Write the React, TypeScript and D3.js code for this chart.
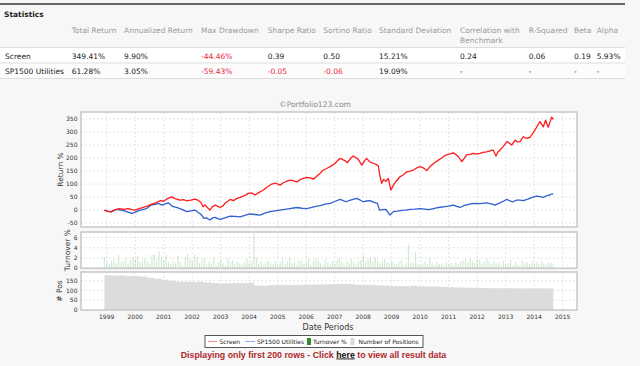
import React from 'react';
import * as d3 from 'd3';

const W = 640;
const H = 366;

// statistics table
const statHeaders = ['Total Return', 'Annualized Return', 'Max Drawdown', 'Sharpe Ratio', 'Sortino Ratio', 'Standard Deviation', 'Correlation with\nBenchmark', 'R-Squared', 'Beta', 'Alpha'];
const statRowNames = ['Screen', 'SP1500 Utilities'];
const screenStats = ['349.41%', '9.90%', '-44.46%', '0.39', '0.50', '15.21%', '0.24', '0.06', '0.19', '5.93%'];
const benchStats = ['61.28%', '3.05%', '-59.43%', '-0.05', '-0.06', '19.09%', '-', '-', '-', '-'];
const colX = [71.7, 124, 201, 267.7, 323.3, 379, 460, 528.7, 574, 596.7];

// return % series, [decimal year, value]
const screenReturn: [number, number][] = [
  [1998.92, 0], [1999.05, -5], [1999.15, -7], [1999.3, 2], [1999.45, 6], [1999.6, 3], [1999.75, 6], [1999.9, 2],
  [2000.0, 0], [2000.12, 5], [2000.28, 10], [2000.45, 16], [2000.58, 23], [2000.72, 28], [2000.87, 36], [2001.0, 34],
  [2001.1, 42], [2001.28, 51], [2001.4, 44], [2001.57, 38], [2001.7, 40], [2001.81, 35], [2001.95, 38], [2002.1, 42],
  [2002.2, 38], [2002.3, 30], [2002.38, 13], [2002.45, 20], [2002.55, 8], [2002.62, 0], [2002.7, 12], [2002.8, 19],
  [2002.9, 14], [2002.98, 10], [2003.08, 16], [2003.15, 26], [2003.25, 34], [2003.33, 41], [2003.45, 36], [2003.55, 44],
  [2003.68, 49], [2003.82, 55], [2003.97, 64], [2004.1, 66], [2004.2, 58], [2004.35, 68], [2004.5, 77], [2004.62, 88],
  [2004.79, 100], [2004.92, 104], [2005.08, 96], [2005.2, 105], [2005.3, 110], [2005.43, 115], [2005.55, 112], [2005.67, 108],
  [2005.8, 118], [2005.9, 122], [2006.02, 126], [2006.15, 124], [2006.25, 119], [2006.35, 128], [2006.42, 135], [2006.48, 140],
  [2006.58, 152], [2006.72, 160], [2006.85, 168], [2007.01, 179], [2007.1, 190], [2007.19, 199], [2007.28, 194], [2007.36, 190],
  [2007.45, 182], [2007.55, 198], [2007.65, 208], [2007.72, 203], [2007.82, 196], [2007.95, 173], [2008.05, 190], [2008.12, 199],
  [2008.22, 186], [2008.35, 180], [2008.45, 176], [2008.53, 170], [2008.59, 130], [2008.65, 103], [2008.72, 118], [2008.8, 110],
  [2008.88, 122], [2008.97, 77], [2009.06, 96], [2009.15, 110], [2009.29, 128], [2009.4, 135], [2009.53, 147], [2009.65, 150],
  [2009.76, 154], [2009.88, 162], [2009.99, 167], [2010.1, 163], [2010.23, 152], [2010.35, 168], [2010.46, 178], [2010.55, 186],
  [2010.64, 192], [2010.75, 200], [2010.87, 210], [2010.93, 212], [2011.05, 216], [2011.16, 220], [2011.25, 214], [2011.34, 205],
  [2011.46, 186], [2011.55, 200], [2011.63, 212], [2011.75, 214], [2011.86, 218], [2011.98, 215], [2012.1, 218], [2012.2, 222],
  [2012.33, 224], [2012.45, 228], [2012.56, 231], [2012.66, 208], [2012.72, 222], [2012.8, 231], [2012.92, 245], [2013.04, 263],
  [2013.12, 258], [2013.21, 250], [2013.33, 269], [2013.42, 262], [2013.5, 263], [2013.62, 282], [2013.72, 276], [2013.85, 279],
  [2013.95, 295], [2014.03, 308], [2014.12, 325], [2014.2, 340], [2014.32, 320], [2014.4, 345], [2014.49, 318], [2014.56, 340],
  [2014.61, 357], [2014.67, 349],
];

const utilitiesReturn: [number, number][] = [
  [1998.92, 0], [1999.05, -5], [1999.15, -7], [1999.35, 3], [1999.5, 0], [1999.62, -3], [1999.75, -8], [1999.88, -13],
  [2000.0, -8], [2000.11, -3], [2000.25, 2], [2000.4, 6], [2000.55, 19], [2000.7, 22], [2000.81, 26], [2000.95, 19],
  [2001.05, 24], [2001.16, 28], [2001.25, 20], [2001.33, 13], [2001.45, 10], [2001.57, 6], [2001.7, 0], [2001.81, -6],
  [2001.95, -3], [2002.1, 0], [2002.2, -8], [2002.27, -13], [2002.35, -22], [2002.41, -32], [2002.5, -30], [2002.62, -38],
  [2002.72, -30], [2002.8, -28], [2002.9, -33], [2002.98, -36], [2003.15, -30], [2003.33, -23], [2003.5, -24], [2003.68, -26],
  [2003.85, -20], [2004.03, -15], [2004.2, -17], [2004.38, -19], [2004.55, -12], [2004.73, -6], [2004.9, -3], [2005.08, 0],
  [2005.25, 3], [2005.43, 6], [2005.55, 8], [2005.67, 10], [2005.85, 7], [2006.02, 6], [2006.2, 10], [2006.37, 15],
  [2006.5, 17], [2006.66, 23], [2006.84, 26], [2007.0, 33], [2007.19, 41], [2007.3, 36], [2007.4, 32], [2007.55, 38],
  [2007.77, 45], [2007.9, 38], [2008.0, 32], [2008.12, 35], [2008.24, 36], [2008.38, 30], [2008.5, 26], [2008.57, 0],
  [2008.68, 2], [2008.8, 3], [2008.94, -19], [2009.06, -6], [2009.2, -4], [2009.35, -1], [2009.5, 0], [2009.65, 3],
  [2009.8, 4], [2009.99, 6], [2010.15, 4], [2010.3, 2], [2010.46, 6], [2010.65, 10], [2010.87, 13], [2011.0, 15],
  [2011.16, 19], [2011.28, 14], [2011.4, 10], [2011.55, 18], [2011.7, 22], [2011.86, 26], [2012.1, 25], [2012.33, 28],
  [2012.5, 24], [2012.62, 19], [2012.8, 28], [2012.95, 36], [2013.04, 41], [2013.15, 35], [2013.25, 32], [2013.38, 38],
  [2013.5, 38], [2013.62, 36], [2013.78, 42], [2013.95, 50], [2014.09, 54], [2014.2, 52], [2014.32, 49], [2014.45, 56],
  [2014.55, 58], [2014.61, 62], [2014.67, 62],
];

// monthly turnover %, Dec 1998 .. Sep 2014
const turnoverStart = 1998.92;
const turnover = [
  2.2,
  1.2, 0.8, 1.5, 1.8, 1.0, 2.6, 1.2, 1.4, 2.0, 0.9, 1.6, 2.2,
  1.8, 2.4, 1.2, 1.6, 2.0, 1.4, 1.0, 2.6, 2.8, 1.8, 3.4, 2.2,
  1.6, 2.6, 1.2, 0.8, 1.4, 1.0, 2.4, 1.2, 0.6, 2.2, 2.8, 1.8,
  1.4, 2.6, 2.2, 1.0, 1.6, 2.0, 0.8, 1.4, 1.0, 2.2, 0.6, 1.2,
  1.8, 1.0, 0.6, 2.0, 1.2, 1.6, 0.8, 1.4, 1.0, 0.6, 1.2, 1.8,
  1.0, 1.4, 6.8, 2.2, 0.8, 1.4, 0.6, 1.2, 1.6, 1.0, 0.8, 1.4,
  0.6, 1.2, 1.8, 0.8, 1.4, 2.0, 1.0, 1.2, 0.6, 1.6, 1.4, 0.8,
  1.2, 1.8, 0.6, 1.4, 2.0, 1.6, 1.0, 0.6, 1.8, 1.2, 0.8, 1.4,
  1.0, 1.6, 2.0, 1.2, 0.6, 1.4, 1.0, 1.8, 1.2, 0.8, 1.4, 1.6,
  2.6, 1.2, 1.8, 2.0, 1.4, 2.2, 1.6, 1.0, 1.4, 1.8, 1.2, 1.0,
  1.4, 1.0, 0.8, 1.2, 1.6, 0.6, 1.0, 4.6, 1.2, 1.0, 3.2, 0.8,
  0.6, 1.0, 1.4, 0.8, 2.0, 1.0, 0.6, 1.2, 0.8, 1.0, 0.6, 1.2,
  0.8, 1.0, 0.6, 1.2, 0.8, 1.4, 1.6, 1.8, 1.2, 2.0, 1.4, 1.0,
  1.8, 1.6, 1.0, 1.4, 2.0, 1.2, 0.8, 1.4, 1.0, 1.2, 0.6, 1.4,
  0.8, 1.0, 1.6, 0.6, 1.2, 0.8, 0.6, 1.4, 1.0, 1.2, 0.8, 1.4,
  1.0, 1.2, 0.8, 1.4, 1.0, 0.6, 1.2, 1.0, 0.8,
];

// quarterly number of positions
const positionsStart = 1998.92;
const positions = [
  178, 176, 177, 175, 174, 172, 165, 160, 155, 150, 146, 145, 144, 145, 141, 138,
  136, 137, 139, 137, 140, 126, 125, 127, 128, 129, 128, 130, 131, 130, 131, 132,
  134, 135, 134, 130, 128, 129, 127, 124, 122, 123, 122, 124, 122, 121, 120, 119,
  117, 116, 115, 114, 114, 113, 112, 111, 111, 111, 110, 111, 110, 111, 110, 110,
];

const years = d3.range(1999, 2016);
const returnTicks = [-50, 0, 50, 100, 150, 200, 250, 300, 350];
const turnoverTicks = [0, 2, 4, 6];
const positionTicks = [0, 50, 100, 150];

const FONT = 'DejaVu Sans, Verdana, sans-serif';
const PL = 81;
const PR = 577;

const x = d3.scaleLinear().domain([1999, 2015]).range([106.7, 562.7]);
const yRet = d3.scaleLinear().domain([-65, 377]).range([227, 112]);
const yTurn = d3.scaleLinear().domain([0, 7.1]).range([268.3, 232]);
const yPos = d3.scaleLinear().domain([0, 195]).range([310, 272]);

const retLine = d3.line<[number, number]>().x(d => x(d[0])).y(d => yRet(d[1]));
const posArea = d3.area<number>()
  .x((_, i) => x(positionsStart + i * 0.25))
  .y0(yPos(0))
  .y1(d => yPos(d))
  .curve(d3.curveStepAfter);

const Panel = ({ y, ticks }: { y: d3.ScaleLinear<number, number>; ticks: number[] }) => {
  const [bottom, top] = y.range();
  return (
    <g>
      <rect x={PL} y={top} width={PR - PL} height={bottom - top} fill="#fff" />
      {years.map(t => (
        <line key={'v' + t} x1={x(t)} x2={x(t)} y1={top} y2={bottom} stroke="#ddd" strokeDasharray="2,2" strokeWidth={0.8} />
      ))}
      {ticks.map(t => (
        <g key={'h' + t}>
          <line x1={PL} x2={PR} y1={y(t)} y2={y(t)} stroke="#ddd" strokeDasharray="2,2" strokeWidth={0.8} />
          <text x={77.5} y={y(t)} dy="0.35em" textAnchor="end" fontSize={6} fill="#333">{t}</text>
        </g>
      ))}
    </g>
  );
};

const Frame = ({ y }: { y: d3.ScaleLinear<number, number> }) => {
  const [bottom, top] = y.range();
  return <rect x={PL} y={top} width={PR - PL} height={bottom - top} fill="none" stroke="#c8c8c8" strokeWidth={1.5} />;
};

const App = () => {
  const monthW = x(2000) - x(1999 + 11 / 12);
  return (
    <div style={{ position: 'fixed', left: 0, top: 0 }}>
      <svg width={W} height={H} fontFamily={FONT} style={{ display: 'block', background: '#f7f7f7' }}>
        {/* statistics table */}
        <line x1={0} x2={625} y1={4} y2={4} stroke="#333" strokeWidth={1.5} />
        <text x={4} y={17} fontSize={7.5} fontWeight="bold" fill="#222">Statistics</text>
        {statHeaders.map((h, i) => (
          <text key={h} x={colX[i]} y={33} fontSize={7.5} fill="#999">
            {h.split('\n').map((s, k) => (
              <tspan key={k} x={colX[i]} dy={k === 0 ? 0 : 10}>{s}</tspan>
            ))}
          </text>
        ))}
        <rect x={0} y={48} width={625} height={15} fill="#fff" />
        <rect x={0} y={63} width={625} height={15.5} fill="#fcfcfc" />
        {[47.5, 63, 78.5].map(ly => (
          <line key={ly} x1={0} x2={625} y1={ly} y2={ly} stroke="#ddd" strokeWidth={1} />
        ))}
        {[screenStats, benchStats].map((row, r) => (
          <g key={r}>
            <text x={5} y={58.5 + r * 15.5} fontSize={7.5} fill="#222">{statRowNames[r]}</text>
            {row.map((v, i) => (
              <text key={i} x={colX[i]} y={58.5 + r * 15.5} fontSize={7.5}
                fill={v.startsWith('-') && v.length > 1 ? '#e8283c' : '#222'}>{v}</text>
            ))}
          </g>
        ))}

        {/* chart */}
        <text x={351} y={106.5} textAnchor="end" fontSize={7.6} fill="#888">©Portfolio123.com</text>

        <Panel y={yRet} ticks={returnTicks} />
        <path d={retLine(utilitiesReturn) || ''} fill="none" stroke="#2f5fd0" strokeWidth={1.3} strokeLinejoin="round" />
        <path d={retLine(screenReturn) || ''} fill="none" stroke="#ff1a1a" strokeWidth={1.3} strokeLinejoin="round" />
        <Frame y={yRet} />

        <Panel y={yTurn} ticks={turnoverTicks} />
        {turnover.map((v, i) => {
          const cx = x(turnoverStart + i / 12);
          return (
            <rect key={i} x={cx - monthW * 0.25} width={monthW * 0.5} y={yTurn(v)} height={yTurn(0) - yTurn(v)}
              fill="#4caf50" fillOpacity={0.25} />
          );
        })}
        <Frame y={yTurn} />

        <Panel y={yPos} ticks={positionTicks} />
        <path d={posArea(positions) || ''} fill="#dcdcdc" />
        <Frame y={yPos} />

        {years.map(t => (
          <text key={t} x={x(t)} y={319} textAnchor="middle" fontSize={6} fill="#333">{t}</text>
        ))}
        <text x={328} y={329.5} textAnchor="middle" fontSize={8} fill="#333">Date Periods</text>

        <text transform={`translate(62.5,${(yRet.range()[0] + yRet.range()[1]) / 2}) rotate(-90)`} textAnchor="middle" fontSize={7.5} fill="#333">Return %</text>
        <text transform={`translate(69.5,${(yTurn.range()[0] + yTurn.range()[1]) / 2}) rotate(-90)`} textAnchor="middle" fontSize={7.5} fill="#333">Turnover %</text>
        <text transform={`translate(61.5,${(yPos.range()[0] + yPos.range()[1]) / 2}) rotate(-90)`} textAnchor="middle" fontSize={7.5} fill="#333">{'# Pos'}</text>

        {/* legend */}
        <rect x={205} y={335.5} width={218} height={12} fill="#fff" stroke="#555" strokeWidth={1} />
        <line x1={208} x2={217} y1={341.5} y2={341.5} stroke="#ff9a9a" strokeWidth={1.2} />
        <text x={219.5} y={343.7} fontSize={6} fill="#222">Screen</text>
        <line x1={245} x2={255} y1={341.5} y2={341.5} stroke="#9ab8f0" strokeWidth={1.2} />
        <text x={257} y={343.7} fontSize={6} fill="#222">SP1500 Utilities</text>
        <rect x={307} y={338} width={4} height={7} fill="#2e8b2e" />
        <text x={313} y={343.7} fontSize={6} fill="#222">Turnover %</text>
        <rect x={350.5} y={338} width={4} height={7} fill="#d9d9d9" />
        <text x={358.5} y={343.7} fontSize={6} fill="#222">Number of Positions</text>

        <text x={313.5} y={357.5} textAnchor="middle" fontFamily="Liberation Sans, Arial, sans-serif" fontSize={8.8} fontWeight="bold" fill="#b0282c">
          Displaying only first 200 rows - Click <tspan fill="#111" textDecoration="underline">here</tspan> to view all result data
        </text>
      </svg>
    </div>
  );
};

export default App;
